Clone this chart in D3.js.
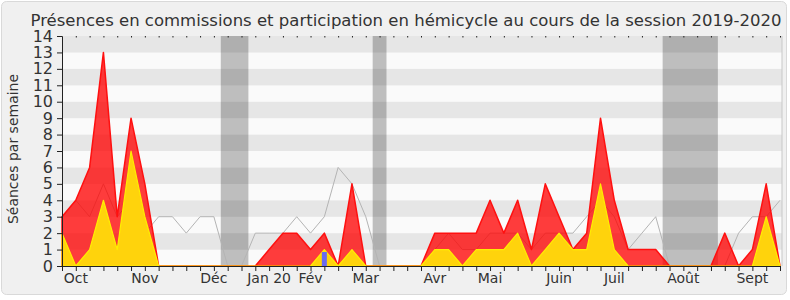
<!DOCTYPE html>
<html>
<head>
<meta charset="utf-8">
<script src="https://cdn.jsdelivr.net/npm/d3@7"></script>
<style>
  body { margin: 0; background: #fff; }
  text { font-family: "DejaVu Sans", sans-serif; fill: #333; }
</style>
</head>
<body>
<svg id="chart" width="790" height="300"></svg>
<script>
const Y_MAX = 14;

// one value per week, 53 weeks of the session
const presences = [3, 4, 6, 13, 3, 9, 5, 0, 0, 0, 0, 0, 0, 0, 0, 1, 2, 2, 1, 2, 0, 5, 0, 0, 0, 0, 0,
  2, 2, 2, 2, 4, 2, 4, 1, 5, 3, 1, 2, 9, 4, 1, 1, 1, 0, 0, 0, 0, 2, 0, 1, 5, 0];
const participations = [2, 0, 1, 4, 1, 7, 3, 0, 0, 0, 0, 0, 0, 0, 0, 0, 0, 0, 0, 1, 0, 1, 0, 0, 0, 0, 0,
  1, 1, 0, 1, 1, 1, 2, 0, 1, 2, 1, 1, 5, 1, 0, 0, 0, 0, 0, 0, 0, 0, 0, 0, 3, 0];
const mediane = [3, 4, 3, 5, 3, 4, 2, 3, 3, 2, 3, 3, 0, 0, 2, 2, 2, 3, 2, 3, 6, 5, 3, 0, 0, 0, 0,
  1, 2, 1, 1, 2, 2, 2, 1, 2, 2, 2, 3, 4, 3, 1, 2, 3, 0, 0, 0, 0, 0, 2, 3, 3, 4];
const questions = [{ week: 19, value: 0.85 }];

// holidays, in week units
const vacances = [[11.5, 13.5], [22.5, 23.5], [43.5, 47.5]];

const monthLabels = ['Oct', 'Nov', 'Déc', 'Jan 20', 'Fév', 'Mar', 'Avr', 'Mai', 'Juin', 'Juil', 'Août', 'Sept'];
const monthWeeks = [1, 6, 11, 15, 18, 22, 27, 31, 36, 40, 45, 50];

const yTicks = d3.range(0, Y_MAX + 1);

const svg = d3.select('#chart');
const mLeft = 62, mRight = 780, mTop = 36, mBottom = 266;

const x = d3.scaleLinear().domain([0, presences.length - 1]).range([mLeft, mRight]);
const y = d3.scaleLinear().domain([0, Y_MAX]).range([mBottom, mTop]);

svg.append('rect')
  .attr('x', 1.5).attr('y', 1.5)
  .attr('width', 785).attr('height', 293)
  .attr('rx', 5)
  .style('fill', '#f0f0f0')
  .style('stroke', '#d9d9d9');

// background stripes
svg.selectAll('.stripe')
  .data(d3.range(0, Y_MAX))
  .enter()
  .append('rect')
  .classed('stripe', true)
  .attr('x', mLeft)
  .attr('y', d => y(d + 1))
  .attr('width', mRight + 2 - mLeft)
  .attr('height', d => y(d) - y(d + 1))
  .style('fill', d => d % 2 === 1 ? '#e6e6e6' : '#fafafa');

svg.append('line')
  .attr('x1', mRight + 2).attr('x2', mRight + 2)
  .attr('y1', mTop).attr('y2', mBottom)
  .style('stroke', '#c8c8c8');

svg.selectAll('.vac')
  .data(vacances)
  .enter()
  .append('rect')
  .classed('vac', true)
  .attr('x', d => x(d[0]))
  .attr('y', mTop)
  .attr('width', d => x(d[1]) - x(d[0]))
  .attr('height', mBottom - mTop)
  .style('fill', 'rgba(0,0,0,0.24)');

svg.append('path')
  .datum(mediane)
  .attr('d', d3.line().x((d, i) => x(i)).y(d => y(d)))
  .style('fill', 'none')
  .style('stroke', '#b4b4b4')
  .style('stroke-width', 1);

const area = d3.area().x((d, i) => x(i)).y0(y(0)).y1(d => y(d));

svg.append('path')
  .datum(presences)
  .attr('d', area)
  .style('fill', 'rgba(255,0,0,0.76)')
  .style('stroke', '#ff1010')
  .style('stroke-width', 1.5)
  .style('stroke-linejoin', 'round');

svg.append('path')
  .datum(participations)
  .attr('d', area)
  .style('fill', '#ffd30c')
  .style('stroke', '#ffee00')
  .style('stroke-width', 1.2)
  .style('stroke-linejoin', 'round');

svg.selectAll('.question')
  .data(questions)
  .enter()
  .append('rect')
  .classed('question', true)
  .attr('x', d => x(d.week) - 2.5)
  .attr('y', d => y(d.value))
  .attr('width', 5)
  .attr('height', d => y(0) - y(d.value))
  .style('fill', '#6a6af0');

// axes
const yAxis = svg.append('g')
  .attr('transform', 'translate(' + mLeft + ',0)')
  .call(d3.axisLeft(y).tickValues(yTicks).tickSize(5).tickPadding(4).tickFormat(d3.format('d')));
yAxis.select('.domain').style('stroke', '#222');
yAxis.selectAll('line').style('stroke', '#222');
yAxis.selectAll('text').style('font-size', '16px').style('font-family', '"DejaVu Sans", sans-serif').style('fill', '#333');

const weeks = d3.range(0, presences.length);
const xAxis = svg.append('g')
  .attr('transform', 'translate(0,' + mBottom + ')')
  .call(d3.axisBottom(x).tickValues(weeks).tickSize(5).tickFormat(''));
xAxis.select('.domain').style('stroke', '#222');
xAxis.selectAll('line').style('stroke', '#222');

svg.append('g')
  .attr('transform', 'translate(0,' + mTop + ')')
  .call(d3.axisBottom(x).tickValues(weeks.slice(1)).tickSize(1.5).tickFormat(''))
  .call(g => g.select('.domain').remove())
  .selectAll('line').style('stroke', '#222');

svg.selectAll('.month')
  .data(monthLabels)
  .enter()
  .append('text')
  .classed('month', true)
  .attr('x', (d, i) => x(monthWeeks[i]))
  .attr('y', 283)
  .attr('text-anchor', 'middle')
  .style('font-size', '14px')
  .text(d => d);

svg.append('text')
  .attr('transform', 'translate(18,149) rotate(-90)')
  .attr('text-anchor', 'middle')
  .style('font-size', '14px')
  .text('Séances par semaine');

svg.append('text')
  .attr('x', 406)
  .attr('y', 26)
  .attr('text-anchor', 'middle')
  .style('font-size', '16.5px')
  .text('Présences en commissions et participation en hémicycle au cours de la session 2019-2020');
</script>
</body>
</html>
